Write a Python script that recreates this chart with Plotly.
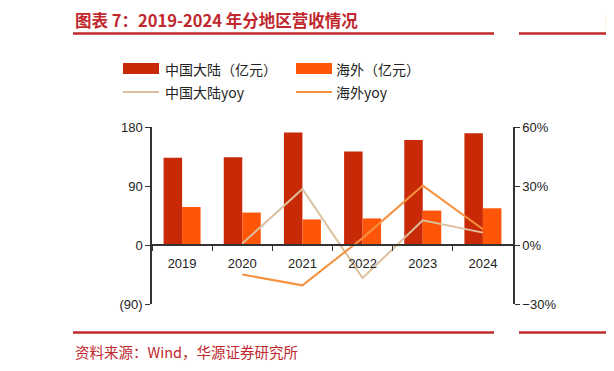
import plotly.graph_objects as go

years = ["2019", "2020", "2021", "2022", "2023", "2024"]
mainland = [133, 134, 171.5, 142.5, 160, 170.5]
overseas = [58, 49.5, 39, 40.5, 52.5, 56]
mainland_yoy = [None, 0.007, 0.285, -0.168, 0.126, 0.063]
overseas_yoy = [None, -0.15, -0.205, 0.035, 0.302, 0.08]
left_ticks = [-90, 0, 90, 180]
left_labels = ["(90)", "0", "90", "180"]
right_ticks = [-0.3, 0, 0.3, 0.6]
right_labels = ["\u221230%", "0%", "30%", "60%"]

C_MAIN = "#C82A08"
C_OVER = "#FF5508"
C_MYOY = "#DCC09E"
C_OYOY = "#F5913E"
RED = "#C0282E"
AX = "#333333"

# page body has an 8px margin: the figure is drawn at (8, 8)
OFF = 8
W, H = 614 - OFF, 371 - OFF
L, R, T, B = 152 - OFF, 513 - OFF, 127 - OFF, 304 - OFF


def px(x):
    return (x - OFF - L) / (R - L)


def py(y):
    return (B - (y - OFF)) / (B - T)


fig = go.Figure()
fig.add_trace(go.Bar(x=years, y=mainland, name="中国大陆（亿元）", marker_color=C_MAIN,
                     marker_line_width=0, yaxis="y"))
fig.add_trace(go.Bar(x=years, y=overseas, name="海外（亿元）", marker_color=C_OVER,
                     marker_line_width=0, yaxis="y"))
fig.add_trace(go.Scatter(x=years, y=mainland_yoy, name="中国大陆yoy", mode="lines",
                         line=dict(color=C_MYOY, width=2), yaxis="y2"))
fig.add_trace(go.Scatter(x=years, y=overseas_yoy, name="海外yoy", mode="lines",
                         line=dict(color=C_OYOY, width=2), yaxis="y2"))

tickfont = dict(family="Liberation Sans, Arial, sans-serif", size=13, color="#222222")

shapes = []
annotations = []

# title & rules
annotations.append(dict(xref="paper", yref="paper", x=px(73), y=py(19.5), xanchor="left", yanchor="middle",
                        text="<b>图表 7：2019-2024 年分地区营收情况</b>", showarrow=False,
                        font=dict(family="Noto Sans CJK SC", size=16.5, color=RED)))
for yy in (33.5, 332.5):
    shapes.append(dict(type="line", xref="paper", yref="paper", x0=px(73), x1=px(494), y0=py(yy), y1=py(yy),
                       line=dict(color=RED, width=2.5)))
    shapes.append(dict(type="line", xref="paper", yref="paper", x0=px(519), x1=px(620), y0=py(yy), y1=py(yy),
                       line=dict(color=RED, width=2.5)))
annotations.append(dict(xref="paper", yref="paper", x=px(603), y=py(19.5), xanchor="left", yanchor="middle",
                        text="<b>图</b>", showarrow=False,
                        font=dict(family="Noto Sans CJK SC", size=16.5, color=RED)))
annotations.append(dict(xref="paper", yref="paper", x=px(605), y=py(351), xanchor="left", yanchor="middle",
                        text="资", showarrow=False,
                        font=dict(family="Noto Sans CJK SC", size=14, color=RED)))
annotations.append(dict(xref="paper", yref="paper", x=px(73), y=py(351), xanchor="left", yanchor="middle",
                        text="资料来源：Wind，华源证券研究所", showarrow=False,
                        font=dict(family="Noto Sans CJK SC", size=14.5, color=RED)))

# legend (manual)
leg_font = dict(family="Noto Sans CJK SC", size=14, color="#222222")
shapes.append(dict(type="rect", xref="paper", yref="paper", x0=px(123), x1=px(159), y0=py(74), y1=py(63),
                   fillcolor=C_MAIN, line=dict(width=0)))
shapes.append(dict(type="rect", xref="paper", yref="paper", x0=px(296), x1=px(332), y0=py(74), y1=py(63),
                   fillcolor=C_OVER, line=dict(width=0)))
shapes.append(dict(type="line", xref="paper", yref="paper", x0=px(123), x1=px(159), y0=py(92), y1=py(92),
                   line=dict(color=C_MYOY, width=2)))
shapes.append(dict(type="line", xref="paper", yref="paper", x0=px(296), x1=px(332), y0=py(92), y1=py(92),
                   line=dict(color=C_OYOY, width=2)))
for xx, yy, t in [(163, 68.5, "中国大陆（亿元）"), (334, 68.5, "海外（亿元）"),
                  (163, 92, "中国大陆yoy"), (334, 92, "海外yoy")]:
    annotations.append(dict(xref="paper", yref="paper", x=px(xx), y=py(yy), xanchor="left", yanchor="middle",
                            text=t, showarrow=False, font=leg_font))

fig.update_layout(
    width=W, height=H,
    margin=dict(l=L, r=W - R, t=T, b=H - B),
    paper_bgcolor="white", plot_bgcolor="white",
    showlegend=False,
    barmode="group", bargap=0.385, bargroupgap=0,
    xaxis=dict(type="category", anchor="free", position=1 / 3, showline=True, linecolor=AX, linewidth=1.5,
               ticks="outside", tickson="boundaries", ticklen=5, tickcolor=AX, tickwidth=1.2,
               ticklabelstandoff=7, tickfont=tickfont, showgrid=False, zeroline=False),
    yaxis=dict(range=[-90, 180], tickvals=left_ticks, ticktext=left_labels, showline=True, linecolor=AX,
               linewidth=1.5, ticks="outside", ticklen=5, tickcolor=AX, tickwidth=1.2, tickfont=tickfont,
               showgrid=False, zeroline=False),
    yaxis2=dict(range=[-0.3, 0.6], tickvals=right_ticks, ticktext=right_labels, overlaying="y", side="right",
                showline=True, linecolor=AX, linewidth=1.5, ticks="outside", ticklen=5, tickcolor=AX,
                tickwidth=1.2, tickfont=tickfont, showgrid=False, zeroline=False),
    shapes=shapes, annotations=annotations,
)

fig.write_html("out.html")
